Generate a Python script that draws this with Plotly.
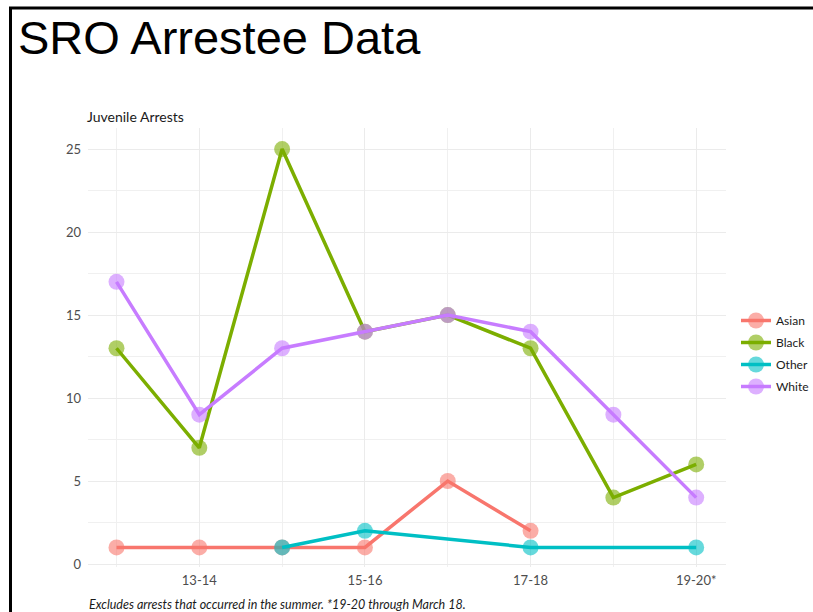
import plotly.graph_objects as go

# School years (x axis) and juvenile arrest counts by race
seasons = ["12-13", "13-14", "14-15", "15-16", "16-17", "17-18", "18-19", "19-20*"]
asian = [1, 1, 1, 1, 5, 2, None, None]
black = [13, 7, 25, 14, 15, 13, 4, 6]
other = [None, None, 1, 2, None, 1, None, 1]
white = [17, 9, 13, 14, 15, 14, 9, 4]

series = [
    ("Asian", asian, "#F8766D"),
    ("Black", black, "#7CAE00"),
    ("Other", other, "#00BFC4"),
    ("White", white, "#C77CFF"),
]

x_idx = list(range(len(seasons)))
labelled = x_idx[1::2]

W, H = 813, 612
L, R, T, B = 88, 87, 128, 45
pw, ph = W - L - R, H - T - B


def px_x(p):
    return (p - L) / pw


def px_y(p):
    return (H - B - p) / ph


fig = go.Figure()
for name, vals, color in series:
    xs = [x for x, v in zip(x_idx, vals) if v is not None]
    ys = [v for v in vals if v is not None]
    fig.add_trace(go.Scatter(
        x=xs, y=ys, name=name, mode="lines+markers",
        legendgroup=name,
        line=dict(color=color, width=3.5),
        marker=dict(color=color, size=16, opacity=0.6, line=dict(width=0)),
        hoverinfo="x+y+name",
    ))

font_family = "Lato, 'Open Sans', sans-serif"

fig.update_layout(
    width=W, height=H,
    margin=dict(l=L, r=R, t=T, b=B, autoexpand=False),
    paper_bgcolor="white",
    plot_bgcolor="white",
    font=dict(family=font_family, color="#4D4D4D", size=13),
    showlegend=True,
    legend=dict(
        x=px_x(736), y=px_y(306), xanchor="left", yanchor="top",
        font=dict(family=font_family, size=12, color="#1A1A1A"),
        traceorder="grouped", tracegroupgap=3,
        bgcolor="rgba(0,0,0,0)",
    ),
    xaxis=dict(
        range=[-0.344, 7.36],
        tickmode="array",
        tickvals=labelled,
        ticktext=[seasons[i] for i in labelled],
        showgrid=True, gridcolor="#EBEBEB", gridwidth=1,
        minor=dict(tickmode="array", tickvals=x_idx, showgrid=True,
                   gridcolor="#F0F0F0", gridwidth=0.7),
        zeroline=False, showline=False, ticks="",
        tickfont=dict(size=13, color="#4D4D4D"),
        ticklabelstandoff=4,
    ),
    yaxis=dict(
        range=[-0.18, 26.27],
        tickmode="array",
        tickvals=[0, 5, 10, 15, 20, 25],
        showgrid=True, gridcolor="#EBEBEB", gridwidth=1,
        minor=dict(tickmode="array", tickvals=[2.5, 7.5, 12.5, 17.5, 22.5],
                   showgrid=True, gridcolor="#F0F0F0", gridwidth=0.7),
        zeroline=False, showline=False, ticks="",
        tickfont=dict(size=13, color="#4D4D4D"),
        ticklabelstandoff=6,
    ),
    annotations=[
        dict(text="SRO Arrestee Data", xref="paper", yref="paper",
             x=px_x(16), y=px_y(38), xanchor="left", yanchor="middle",
             showarrow=False,
             font=dict(family="'Liberation Sans', Arial, sans-serif",
                       size=47, color="#000000")),
        dict(text="Juvenile Arrests", xref="paper", yref="paper",
             x=px_x(85), y=px_y(116), xanchor="left", yanchor="middle",
             showarrow=False,
             font=dict(family=font_family, size=14, color="#1A1A1A")),
        dict(text="<i>Excludes arrests that occurred in the summer. *19-20 through March 18.</i>",
             xref="paper", yref="paper",
             x=px_x(87), y=px_y(604), xanchor="left", yanchor="middle",
             showarrow=False,
             font=dict(family=font_family, size=12.5, color="#1A1A1A")),
    ],
    shapes=[
        # frame: only its top and left edges fall inside the page
        dict(type="rect", xref="paper", yref="paper",
             x0=px_x(10.5), x1=px_x(W + 20), y0=px_y(8), y1=px_y(H + 20),
             line=dict(color="black", width=3), fillcolor="rgba(0,0,0,0)"),
    ],
)

fig.write_html("out.html", config={"displayModeBar": False})
